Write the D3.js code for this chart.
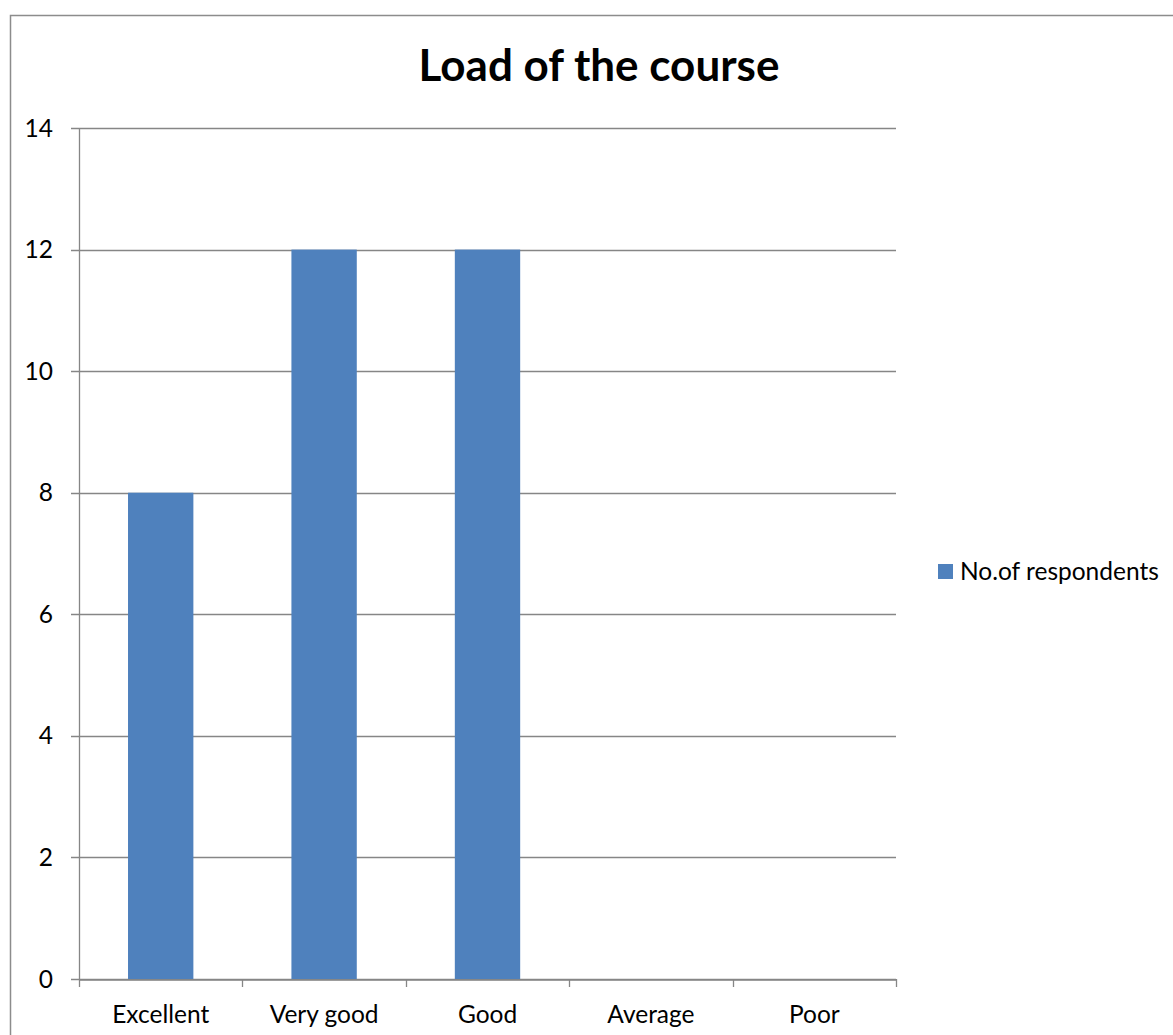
<!DOCTYPE html>
<html>
<head>
<meta charset="utf-8">
<script src="https://cdn.jsdelivr.net/npm/d3@7"></script>
<style>
  body { margin: 0; background: #fff; }
  text { font-family: Lato, "Open Sans", sans-serif; fill: #000; }
</style>
</head>
<body>
<div id="chart"></div>
<script>
// chart data
var categories = ["Excellent", "Very good", "Good", "Average", "Poor"];
var respondents = [8, 12, 12, 0, 0];
var yTicks = [0, 2, 4, 6, 8, 10, 12, 14];
var seriesName = "No.of respondents";
var chartTitle = "Load of the course";

var svgWidth = 1173;
var svgHeight = 1035;

var margin = { top: 128, right: 277, bottom: 56, left: 79 };
var width = svgWidth - margin.left - margin.right;
var height = svgHeight - margin.top - margin.bottom;

var svg = d3.select("#chart")
  .append("svg")
  .attr("width", svgWidth)
  .attr("height", svgHeight);

// outer chart frame (runs off the right and bottom edges)
svg.append("rect")
  .attr("x", 10.5)
  .attr("y", 15.5)
  .attr("width", 1300)
  .attr("height", 1200)
  .attr("fill", "none")
  .attr("stroke", "#8c8c8c")
  .attr("stroke-width", 1.5);

var chartGroup = svg.append("g")
  .attr("transform", `translate(${margin.left}, ${margin.top})`);

var xScale = d3.scaleBand()
  .domain(categories)
  .range([0, width])
  .padding(0);

var yScale = d3.scaleLinear()
  .domain([0, 14])
  .range([height, 0]);

// gridlines
chartGroup.selectAll(".grid")
  .data(yTicks)
  .enter()
  .append("line")
  .attr("x1", -8)
  .attr("x2", width)
  .attr("y1", d => Math.round(yScale(d)) + 0.5)
  .attr("y2", d => Math.round(yScale(d)) + 0.5)
  .attr("stroke", "#868686")
  .attr("stroke-width", 1.3);

// bars
var barW = xScale.bandwidth() * 0.4;
chartGroup.selectAll("rect.bar")
  .data(respondents)
  .enter()
  .append("rect")
  .attr("class", "bar")
  .attr("x", (d, i) => xScale(categories[i]) + (xScale.bandwidth() - barW) / 2)
  .attr("y", d => yScale(d))
  .attr("width", barW)
  .attr("height", d => height - yScale(d))
  .attr("fill", "#4f81bd");

// y axis line
chartGroup.append("line")
  .attr("x1", 0.5).attr("x2", 0.5)
  .attr("y1", 0).attr("y2", height)
  .attr("stroke", "#868686")
  .attr("stroke-width", 1.3);

// x axis
var bottomAxis = d3.axisBottom(xScale).tickSize(0).tickPadding(34);
var xAxis = chartGroup.append("g")
  .attr("transform", `translate(0, ${Math.round(height) + 0.5})`)
  .call(bottomAxis);
xAxis.select(".domain").attr("stroke", "#868686").attr("stroke-width", 1.3);
xAxis.selectAll("text")
  .attr("font-size", 24.5)
  .attr("font-family", "Lato, sans-serif")
  .attr("dy", 0)
  .attr("y", 43);

// category boundary ticks
var boundaries = d3.range(categories.length + 1).map(i => i * xScale.bandwidth());
chartGroup.selectAll(".xtick")
  .data(boundaries)
  .enter()
  .append("line")
  .attr("x1", d => Math.round(d) + 0.5)
  .attr("x2", d => Math.round(d) + 0.5)
  .attr("y1", height)
  .attr("y2", height + 8)
  .attr("stroke", "#868686")
  .attr("stroke-width", 1.3);

// y labels
chartGroup.selectAll(".ylabel")
  .data(yTicks)
  .enter()
  .append("text")
  .attr("x", -26)
  .attr("y", d => yScale(d))
  .attr("dy", "0.35em")
  .attr("text-anchor", "end")
  .attr("font-size", 24.5)
  .text(d => d);

// title
svg.append("text")
  .attr("x", 599)
  .attr("y", 81)
  .attr("text-anchor", "middle")
  .attr("font-size", 44)
  .attr("font-weight", "bold")
  .text(chartTitle);

// legend
var legend = svg.append("g").attr("transform", "translate(938, 564)");
legend.append("rect")
  .attr("width", 15)
  .attr("height", 15)
  .attr("fill", "#4f81bd");
legend.append("text")
  .attr("x", 22)
  .attr("y", 16)
  .attr("font-size", 24.5)
  .text(seriesName);
</script>
</body>
</html>
